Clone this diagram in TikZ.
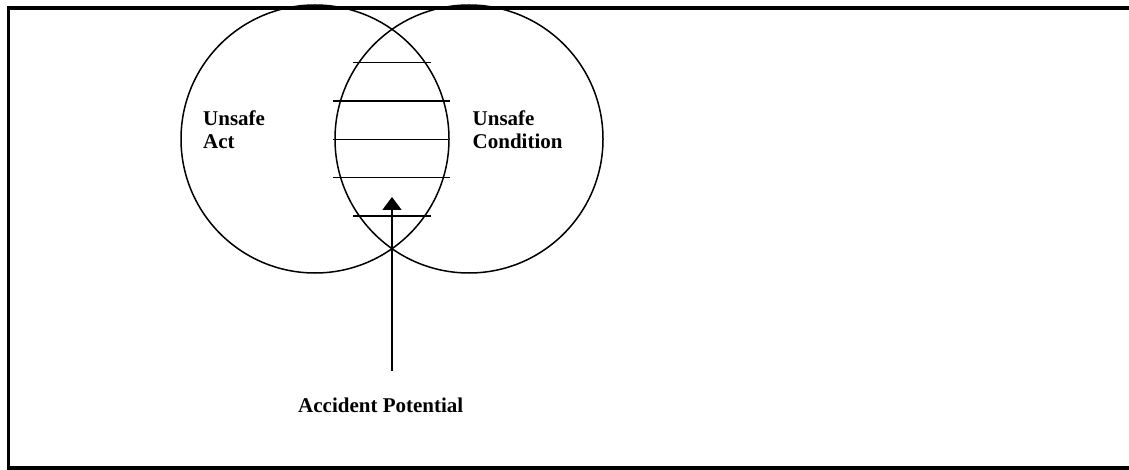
\documentclass[tikz,border=0pt]{standalone}
\usepackage{fontspec}
\setmainfont{Liberation Serif}
\usetikzlibrary{arrows.meta}
\begin{document}
\begin{tikzpicture}[x=1pt,y=-1pt,
  ring/.style={circle,draw,line width=1.5pt,minimum size=268pt,inner sep=0pt},
  hatch/.style={line width=1.5pt},
  frameline/.style={line width=3.5pt},
  lbl/.style={font=\fontsize{21}{23}\selectfont\bfseries,inner sep=0pt,anchor=base west},
  pointer/.style={line width=1.5pt,-{Triangle[width=19pt,length=13pt]}}]
\useasboundingbox (0,0) rectangle (1129,470);
\draw[frameline] (1129,8) -- (8.5,8) -- (8.5,468) -- (1129,468);
\node[ring] (act) at (315,139) {};
\node[ring] (cond) at (469,139) {};
\draw[hatch] (353,62.7) -- (431,62.7);
\draw[hatch] (333,101) -- (450,101);
\draw[hatch] (333,139.3) -- (448,139.3);
\draw[hatch] (333,177.7) -- (450,177.7);
\draw[hatch] (353,216) -- (431,216);
\node[lbl] (a1) at (203,126) {Unsafe};
\node[lbl] (a2) at (203,149) {Act};
\node[lbl] (c1) at (472.5,126) {Unsafe};
\node[lbl] (c2) at (472.5,149) {Condition};
\node[lbl] (pot) at (298,412) {Accident Potential};
\coordinate (tail) at (392,371);
\coordinate (tip) at (392,197);
\draw[pointer] (tail) -- (tip);
\end{tikzpicture}
\end{document}
